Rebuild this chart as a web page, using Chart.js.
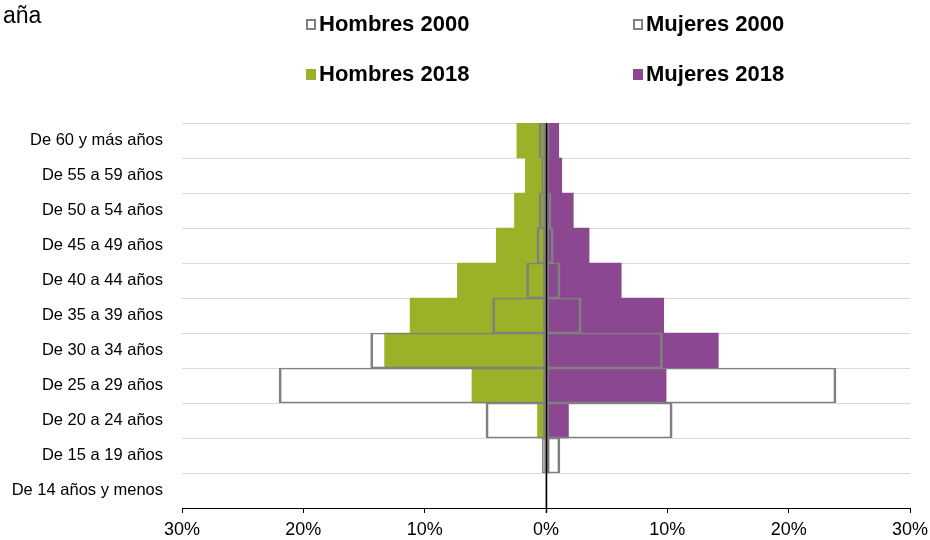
<!DOCTYPE html>
<html lang="es">
<head>
<meta charset="utf-8">
<script src="https://cdn.jsdelivr.net/npm/chart.js@4"></script>
<style>
	body { margin: 0; background: #fff; }
	#wrap { position: relative; width: 930px; height: 540px; font-family: 'Liberation Sans', Arial, sans-serif; }
	#title { position: absolute; left: 3px; top: 1px; font-size: 23px; line-height: 28px; color: #000; }
	.item { position: absolute; display: flex; align-items: center; font-size: 22px; font-weight: bold; color: #000; height: 26px; }
	.box { width: 10px; height: 11px; margin-right: 3px; box-sizing: border-box; }
</style>
</head>
<body>
<div id="wrap">
	<div id="title">aña</div>
	<div id="legend"></div>
	<canvas id="chart" width="930" height="540"></canvas>
</div>
<script>
const categories = [
	'De 60 y más años',
	'De 55 a 59 años',
	'De 50 a 54 años',
	'De 45 a 49 años',
	'De 40 a 44 años',
	'De 35 a 39 años',
	'De 30 a 34 años',
	'De 25 a 29 años',
	'De 20 a 24 años',
	'De 15 a 19 años',
	'De 14 años y menos',
];

// % de población, hombres a la izquierda
const hombres2000 = [0.55, 0.35, 0.55, 0.75, 1.6, 4.4, 14.45, 22.0, 4.95, 0.3, 0];
const mujeres2000 = [0.25, 0.2, 0.4, 0.6, 1.15, 2.9, 9.6, 23.9, 10.4, 1.15, 0];
const hombres2018 = [2.4, 1.7, 2.6, 4.1, 7.3, 11.2, 13.3, 6.1, 0.7, 0.05, 0];
const mujeres2018 = [1.05, 1.3, 2.25, 3.55, 6.2, 9.7, 14.2, 9.9, 1.85, 0.25, 0];

const GREEN = '#9bb228';
const PURPLE = '#8b4891';
const GRAY = '#808080';
const FONT = "'Liberation Sans', Arial, sans-serif";

const outline = { backgroundColor: 'transparent', borderColor: GRAY, borderWidth: { left: 2, right: 2, top: 1, bottom: 1 }, borderSkipped: false, order: 0 };
const filled = { borderWidth: 0, order: 1 };

const datasets = [
	{ label: 'Hombres 2000', data: hombres2000.map((v) => -v), ...outline },
	{ label: 'Mujeres 2000', data: mujeres2000, ...outline },
	{ label: 'Hombres 2018', data: hombres2018.map((v) => -v), backgroundColor: GREEN, ...filled },
	{ label: 'Mujeres 2018', data: mujeres2018, backgroundColor: PURPLE, ...filled },
];

// legend 2x2 like the original
const legendPos = [
	{ left: 306, top: 11 },
	{ left: 633, top: 11 },
	{ left: 306, top: 61 },
	{ left: 633, top: 61 },
];
const legend = document.getElementById('legend');
datasets.forEach((ds, i) => {
	const el = document.createElement('div');
	el.className = 'item';
	el.style.left = legendPos[i].left + 'px';
	el.style.top = legendPos[i].top + 'px';
	const box = ds.backgroundColor === 'transparent'
		? `<span class="box" style="border:2px solid ${GRAY};background:#fff"></span>`
		: `<span class="box" style="background:${ds.backgroundColor}"></span>`;
	el.innerHTML = box + ds.label;
	legend.appendChild(el);
});

const zeroLine = {
	id: 'zeroLine',
	afterDatasetsDraw(chart) {
		const { ctx, chartArea, scales } = chart;
		const x = Math.round(scales.x.getPixelForValue(0)) + 0.5;
		ctx.save();
		ctx.strokeStyle = '#000';
		ctx.lineWidth = 1.5;
		ctx.beginPath();
		ctx.moveTo(x, chartArea.top);
		ctx.lineTo(x, chartArea.bottom + 5);
		ctx.stroke();
		ctx.restore();
	},
};

new Chart(document.getElementById('chart'), {
	type: 'bar',
	data: { labels: categories, datasets },
	plugins: [zeroLine],
	options: {
		indexAxis: 'y',
		responsive: false,
		animation: false,
		datasets: { bar: { grouped: false, barPercentage: 1, categoryPercentage: 1 } },
		layout: { padding: { top: 123, right: 20, bottom: 0, left: 0 } },
		plugins: { legend: { display: false }, tooltip: { enabled: false } },
		scales: {
			x: {
				min: -30,
				max: 30,
				ticks: {
					stepSize: 10,
					color: '#000',
					padding: 6,
					font: { family: FONT, size: 18 },
					callback: (v) => Math.abs(v) + '%',
				},
				grid: { color: 'transparent', tickColor: '#000', tickLength: 5 },
				border: { display: true, color: '#000', width: 1 },
				afterFit: (scale) => {
					scale.height = 32;
					scale.paddingLeft = 0;
					scale.paddingRight = 0;
				},
			},
			y: {
				ticks: { color: '#000', padding: 19, font: { family: FONT, size: 16.5 } },
				grid: { color: '#d9d9d9', lineWidth: 1, drawTicks: false, offset: true },
				border: { display: false },
				afterFit: (scale) => { scale.width = 182; },
			},
		},
	},
});
</script>
</body>
</html>
